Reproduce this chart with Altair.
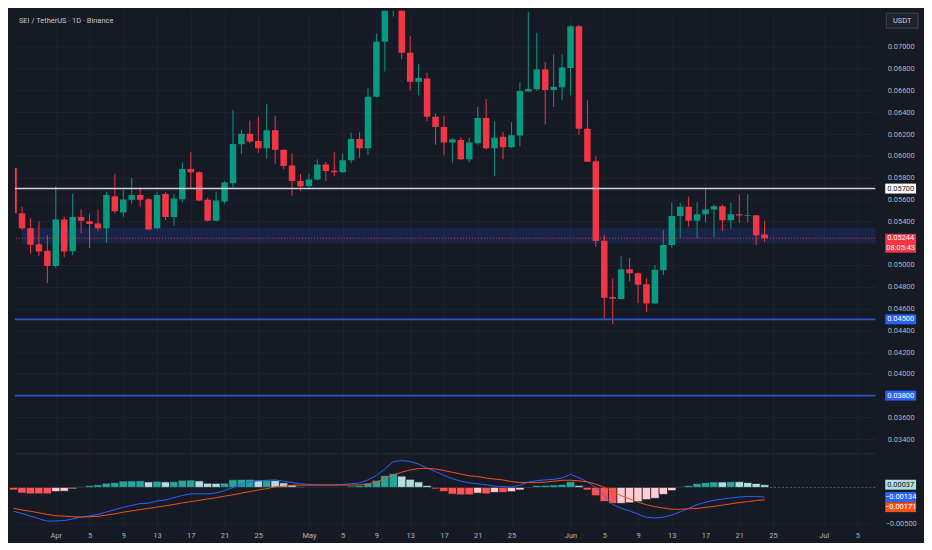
import altair as alt
import numpy as np
import pandas as pd

# ---------------- data ----------------
first_day = "2025-03-27"
day_count = 90
chart_title = "SEI / TetherUS · 1D · Binance"
quote_unit = "USDT"
countdown = "08:05:43"

opens = [0.05888, 0.05473, 0.05337, 0.05188, 0.05130,
         0.04990, 0.05417, 0.05125, 0.05440, 0.05401, 0.05380, 0.05337, 0.05630, 0.05481, 0.05597,
         0.05642, 0.05603, 0.05337, 0.05651, 0.05440, 0.05603, 0.05879, 0.05849, 0.05597, 0.05404,
         0.05582, 0.05748, 0.06107, 0.06202, 0.06137, 0.06071, 0.06235, 0.06057, 0.05911, 0.05769,
         0.05724, 0.05784, 0.05920, 0.05864, 0.05849, 0.05959, 0.06155, 0.06071, 0.06543, 0.07047,
         0.07580, 0.07800, 0.06947, 0.06680, 0.06709, 0.06360, 0.06264, 0.06122, 0.06146, 0.05968,
         0.06116, 0.06347, 0.06071, 0.06175, 0.06080, 0.06187, 0.06591, 0.06611, 0.06792, 0.06605,
         0.06629,
         0.06807, 0.07190, 0.06249, 0.05950, 0.05221, 0.04705, 0.04687, 0.04959, 0.04924, 0.04823,
         0.04645, 0.04950, 0.05182, 0.05449, 0.05533, 0.05404, 0.05464, 0.05508, 0.05538, 0.05410,
         0.05464, 0.05449, 0.05455, 0.05279]

highs = [0.05953, 0.05533, 0.05428, 0.05399, 0.05271,
         0.05722, 0.05443, 0.05651, 0.05508, 0.05470, 0.05508, 0.05671, 0.05831, 0.05686, 0.05799,
         0.05710, 0.05612, 0.05671, 0.05666, 0.05651, 0.05938, 0.06036, 0.05855, 0.05618, 0.05671,
         0.05769, 0.06418, 0.06240, 0.06324, 0.06360, 0.06472, 0.06368, 0.06060, 0.06021, 0.05835,
         0.05835, 0.05968, 0.05944, 0.06036, 0.06021, 0.06214, 0.06217, 0.06620, 0.07125, 0.07700,
         0.07950, 0.07900, 0.07101, 0.06843, 0.06763, 0.06389, 0.06368, 0.06160, 0.06169, 0.06169,
         0.06449, 0.06522, 0.06318, 0.06220, 0.06309, 0.06674, 0.07323, 0.07130, 0.06863, 0.06932,
         0.06932,
         0.07199, 0.07199, 0.06511, 0.05997, 0.05271, 0.04876, 0.05078, 0.05063, 0.04930, 0.04876,
         0.04998, 0.05321, 0.05573, 0.05570, 0.05627, 0.05577, 0.05701, 0.05553, 0.05553, 0.05573,
         0.05648, 0.05648, 0.05455, 0.05404]

lows = [0.05446, 0.05322, 0.05102, 0.05079, 0.04832,
        0.04974, 0.05070, 0.05090, 0.05292, 0.05152, 0.05306, 0.05203, 0.05473, 0.05440, 0.05562,
        0.05532, 0.05322, 0.05331, 0.05410, 0.05359, 0.05573, 0.05706, 0.05582, 0.05399, 0.05399,
        0.05562, 0.05710, 0.06018, 0.06116, 0.06027, 0.05973, 0.05929, 0.05879, 0.05635, 0.05677,
        0.05706, 0.05775, 0.05769, 0.05813, 0.05844, 0.05932, 0.05982, 0.06009, 0.06537, 0.06774,
        0.07279, 0.06887, 0.06600, 0.06555, 0.06318, 0.06102, 0.06006, 0.05938, 0.05959, 0.05944,
        0.06104, 0.06057, 0.05813, 0.05968, 0.06071, 0.06086, 0.06591, 0.06596, 0.06288, 0.06449,
        0.06511,
        0.06555, 0.06191, 0.05944, 0.05167, 0.04500, 0.04456, 0.04684, 0.04847, 0.04648, 0.04565,
        0.04645, 0.04906, 0.05158, 0.05247, 0.05351, 0.05241, 0.05390, 0.05256, 0.05310, 0.05331,
        0.05384, 0.05390, 0.05182, 0.05212]

closes = [0.05473, 0.05337, 0.05185, 0.05123, 0.04990,
          0.05417, 0.05123, 0.05440, 0.05404, 0.05375, 0.05337, 0.05642, 0.05493, 0.05600, 0.05642,
          0.05597, 0.05324, 0.05642, 0.05440, 0.05609, 0.05879, 0.05849, 0.05591, 0.05404, 0.05591,
          0.05755, 0.06110, 0.06202, 0.06131, 0.06071, 0.06235, 0.06057, 0.05908, 0.05769, 0.05722,
          0.05784, 0.05920, 0.05861, 0.05849, 0.05959, 0.06155, 0.06071, 0.06543, 0.07047, 0.07580,
          0.07800, 0.06947, 0.06680, 0.06715, 0.06360, 0.06264, 0.06122, 0.06151, 0.05968, 0.06122,
          0.06347, 0.06071, 0.06166, 0.06080, 0.06190, 0.06596, 0.06614, 0.06792, 0.06605, 0.06635,
          0.06810,
          0.07190, 0.06249, 0.05947, 0.05219, 0.04698, 0.04690, 0.04959, 0.04924, 0.04817, 0.04645,
          0.04954, 0.05182, 0.05449, 0.05533, 0.05404, 0.05464, 0.05508, 0.05538, 0.05410, 0.05464,
          0.05452, 0.05455, 0.05271, 0.05244]

macd_line = [-0.00331, -0.00362, -0.00398, -0.00434, -0.00469,
             -0.00465, -0.00460, -0.00438, -0.00411, -0.00393, -0.00375, -0.00340, -0.00308, -0.00277, -0.00250,
             -0.00224, -0.00219, -0.00188, -0.00174, -0.00143, -0.00112, -0.00089, -0.00089, -0.00089, -0.00076,
             -0.00045, 0.00000, 0.00045, 0.00072, 0.00089, 0.00098, 0.00103, 0.00085, 0.00067, 0.00049,
             0.00040, 0.00036, 0.00036, 0.00036, 0.00040, 0.00050, 0.00063, 0.00103, 0.00166, 0.00255,
             0.00358, 0.00371, 0.00358, 0.00322, 0.00268, 0.00220, 0.00166, 0.00121, 0.00086, 0.00063,
             0.00050, 0.00036, 0.00018, 0.00009, 0.00004, 0.00031, 0.00072, 0.00094, 0.00103, 0.00112,
             0.00130,
             0.00180, 0.00134, 0.00076, 0.00000, -0.00115, -0.00236, -0.00290, -0.00326, -0.00370, -0.00415,
             -0.00424, -0.00415, -0.00383, -0.00339, -0.00290, -0.00240, -0.00205, -0.00179, -0.00161, -0.00148,
             -0.00134, -0.00125, -0.00125, -0.00134]

signal_line = [-0.00291, -0.00313, -0.00331, -0.00353, -0.00375,
               -0.00393, -0.00398, -0.00407, -0.00411, -0.00407, -0.00402, -0.00384, -0.00367, -0.00344, -0.00326,
               -0.00308, -0.00291, -0.00273, -0.00255, -0.00237, -0.00215, -0.00197, -0.00179, -0.00161, -0.00143,
               -0.00121, -0.00103, -0.00080, -0.00058, -0.00036, -0.00018, 0.00009, 0.00018, 0.00027, 0.00031,
               0.00031, 0.00031, 0.00031, 0.00031, 0.00032, 0.00032, 0.00036, 0.00050, 0.00076, 0.00121,
               0.00175, 0.00210, 0.00242, 0.00260, 0.00264, 0.00255, 0.00233, 0.00210, 0.00184, 0.00160,
               0.00150, 0.00130, 0.00115, 0.00103, 0.00080, 0.00067, 0.00067, 0.00067, 0.00072, 0.00085,
               0.00098,
               0.00099, 0.00090, 0.00076, 0.00045, 0.00000, -0.00058, -0.00115, -0.00161, -0.00205, -0.00241,
               -0.00268, -0.00286, -0.00303, -0.00303, -0.00297, -0.00291, -0.00277, -0.00264, -0.00246, -0.00228,
               -0.00210, -0.00197, -0.00183, -0.00171]

histogram = [-0.00036, -0.00080, -0.00090, -0.00090, -0.00090,
             -0.00058, -0.00054, -0.00020, 0.00010, 0.00027, 0.00036, 0.00058, 0.00067, 0.00088, 0.00090,
             0.00092, 0.00076, 0.00085, 0.00076, 0.00080, 0.00100, 0.00102, 0.00090, 0.00058, 0.00056,
             0.00060, 0.00107, 0.00110, 0.00111, 0.00098, 0.00100, 0.00094, 0.00063, 0.00036, 0.00010,
             -0.00004, -0.00005, -0.00005, -0.00004, -0.00002, 0.00018, 0.00027, 0.00054, 0.00098, 0.00165,
             0.00192, 0.00156, 0.00112, 0.00076, 0.00027, -0.00022, -0.00058, -0.00094, -0.00103, -0.00103,
             -0.00080, -0.00090, -0.00070, -0.00070, -0.00060, -0.00036, -0.00008, 0.00027, 0.00029, 0.00034,
             0.00040,
             0.00080, 0.00027, -0.00036, -0.00116, -0.00197, -0.00223, -0.00222, -0.00214, -0.00197, -0.00170,
             -0.00152, -0.00098, -0.00045, 0.00010, 0.00027, 0.00054, 0.00067, 0.00076, 0.00075, 0.00080,
             0.00079, 0.00067, 0.00054, 0.00037]

price_ticks = [0.034, 0.036, 0.038, 0.040, 0.042, 0.044, 0.046, 0.048, 0.050, 0.052,
               0.054, 0.056, 0.058, 0.060, 0.062, 0.064, 0.066, 0.068, 0.070]
covered_ticks = [0.038, 0.052]          # ticks whose labels sit under a price tag
macd_ticks = [-0.005]
date_ticks = ["2025-04-01", "2025-04-05", "2025-04-09", "2025-04-13", "2025-04-17", "2025-04-21", "2025-04-25",
              "2025-05-01", "2025-05-05", "2025-05-09", "2025-05-13", "2025-05-17", "2025-05-21", "2025-05-25",
              "2025-06-01", "2025-06-05", "2025-06-09", "2025-06-13", "2025-06-17", "2025-06-21", "2025-06-25",
              "2025-07-01", "2025-07-05"]

white_level = [0.05700]
blue_levels = [0.04500, 0.03800]
zone_low, zone_high = 0.05197, 0.05339
zone_start = "2025-03-28"

view_start = "2025-03-27 03:52"
view_end = "2025-07-07 02:53"
price_domain = [0.03284, 0.07332]
macd_domain = [-0.00554, 0.00465]

# ---------------- styling ----------------
W, H1, H2 = 866, 444, 74
BG = "#161A25"
GRID = "#1F2330"
TXT = "#B2B5BE"
UP, DOWN = "#089981", "#F23645"
BLUE = "#2962FF"
LEVEL_BLUE = "#2C57D4"
SIG = "#F4511E"
FONT = "Roboto"
FS = 7.5
TAG_X = W + 25.5

DAY = 86_400_000


def to_ms(s):
    return int(pd.Timestamp(s).value // 1_000_000)


dates = pd.date_range(first_day, periods=day_count, freq="D")
ms = dates.asi8 // 1_000_000
tick_ms = [to_ms(d) for d in date_ticks]
x_lo, x_hi = to_ms(view_start), to_ms(view_end)
labelled_ticks = [p for p in price_ticks if p not in covered_ticks]

cdf = pd.DataFrame({"t": ms, "o": opens, "h": highs, "l": lows, "c": closes})
cdf["t0"] = cdf["t"] - int(0.385 * DAY)
cdf["t1"] = cdf["t"] + int(0.385 * DAY)
cdf["dir"] = np.where(cdf["c"] >= cdf["o"], "up", "down")

mdf = pd.DataFrame({"t": ms, "m": macd_line, "s": signal_line, "h": histogram})
prev = mdf["h"].shift(1).fillna(0.0)
mdf["hc"] = np.where(mdf["h"] >= 0,
                     np.where(prev < mdf["h"], "ga", "fa"),
                     np.where(prev < mdf["h"], "gb", "fb"))
mdf["t0"] = mdf["t"] - DAY // 2
mdf["t1"] = mdf["t"] + DAY // 2

xs = alt.Scale(type="utc", domain=[x_lo, x_hi])
ys = alt.Scale(domain=price_domain, nice=False, zero=False)
mys = alt.Scale(domain=macd_domain, nice=False, zero=False)

common_axis = dict(ticks=False, tickSize=0, domain=False, grid=True, gridColor=GRID, tickCount=200,
                   labelOverlap=False, labelSeparation=0, labelBound=False, title=None)

top_xaxis = alt.Axis(values=tick_ms, labels=False, **common_axis)
bottom_xaxis = alt.Axis(values=tick_ms, labelPadding=4, labelFlush=False, labelColor=TXT,
                        labelFont=FONT, labelFontSize=FS,
                        labelExpr="utcdate(datum.value) == 1 ? utcFormat(datum.value, '%b') : '' + utcdate(datum.value)",
                        **common_axis)
price_axis = alt.Axis(orient="right", values=labelled_ticks, format=".5f", labelAlign="center",
                      labelPadding=25.5, labelColor=TXT, labelFont=FONT, labelFontSize=FS, **common_axis)
macd_axis = alt.Axis(orient="right", values=macd_ticks, format=".5f", labelAlign="center", labelPadding=25.5,
                     labelColor=TXT, labelFont=FONT, labelFontSize=FS, **common_axis)

candle_color = alt.Color("dir:N", scale=alt.Scale(domain=["up", "down"], range=[UP, DOWN]), legend=None)


def box_path(width, height):
    h = height / width
    return f"M-1,-{h:.4f}L1,-{h:.4f}L1,{h:.4f}L-1,{h:.4f}Z"


def tag(value, bg, fg, dy=0.0, height=10.0, width=31.0, extra=None):
    d = pd.DataFrame({"v": [value]})
    box = alt.Chart(d).mark_point(shape=box_path(width, height), filled=True, size=width * width,
                                  color=bg, opacity=1, yOffset=dy).encode(
        x=alt.value(TAG_X), y=alt.Y("v:Q", title=None))
    txt = alt.Chart(d).mark_text(color=fg, font=FONT, fontSize=FS, align="center", baseline="middle",
                                 yOffset=(dy if extra is None else 0)).encode(
        x=alt.value(TAG_X), y=alt.Y("v:Q", title=None), text=alt.Text("v:Q", format=".5f"))
    layers = [box, txt]
    if extra is not None:
        layers.append(alt.Chart(d).mark_text(color=fg, font=FONT, fontSize=FS, align="center",
                                             baseline="middle", yOffset=10).encode(
            x=alt.value(TAG_X), y=alt.Y("v:Q", title=None), text=alt.value(extra)))
    return layers


# ---------------- main price pane ----------------
zone_df = pd.DataFrame({"t0": [to_ms(zone_start)], "t1": [x_hi + 5 * DAY], "lo": [zone_low], "hi": [zone_high]})
zone = alt.Chart(zone_df).mark_rect(color=BLUE, opacity=0.16, clip=True).encode(
    x=alt.X("t0:T", scale=xs, axis=top_xaxis, title=None), x2="t1:T",
    y=alt.Y("lo:Q", scale=ys, axis=price_axis, title=None), y2="hi:Q")

covered_grid = alt.Chart(pd.DataFrame({"v": covered_ticks})).mark_rule(color=GRID, strokeWidth=1).encode(
    y=alt.Y("v:Q", title=None))

wicks = alt.Chart(cdf).mark_rule(strokeWidth=1, clip=True).encode(
    x=alt.X("t:T", title=None), y=alt.Y("l:Q", title=None), y2="h:Q", color=candle_color)
bodies = alt.Chart(cdf).mark_rect(clip=True).encode(
    x=alt.X("t0:T", title=None), x2="t1:T", y=alt.Y("o:Q", title=None), y2="c:Q", color=candle_color)

white_rule = alt.Chart(pd.DataFrame({"v": white_level})).mark_rule(color="#D1D4DC", strokeWidth=1.5).encode(
    y=alt.Y("v:Q", title=None))
blue_rules = alt.Chart(pd.DataFrame({"v": blue_levels})).mark_rule(color=LEVEL_BLUE, strokeWidth=1.6).encode(
    y=alt.Y("v:Q", title=None))
price_line = alt.Chart(pd.DataFrame({"v": [closes[-1]]})).mark_rule(
    color=DOWN, strokeDash=[1, 2], strokeWidth=1).encode(y=alt.Y("v:Q", title=None))

title_txt = alt.Chart(pd.DataFrame({"s": [chart_title]})).mark_text(
    align="left", baseline="middle", font=FONT, fontSize=FS, color="#C3C6CE").encode(
    x=alt.value(4), y=alt.value(10), text="s:N")

usdt_box = alt.Chart(pd.DataFrame({"s": [quote_unit]})).mark_point(
    shape=box_path(32, 15), filled=True, size=32 * 32, fill="#1E222D", stroke="#434651",
    strokeWidth=1, opacity=1).encode(x=alt.value(W + 27), y=alt.value(10))
usdt_txt = alt.Chart(pd.DataFrame({"s": [quote_unit]})).mark_text(
    align="center", baseline="middle", font=FONT, fontSize=FS, color="#D1D4DC").encode(
    x=alt.value(W + 27), y=alt.value(10), text="s:N")

main_layers = [zone, covered_grid, wicks, bodies, white_rule, blue_rules, price_line]
main_layers += tag(white_level[0], "#FFFFFF", "#131722")
for v in blue_levels:
    main_layers += tag(v, BLUE, "#FFFFFF")
main_layers += tag(closes[-1], DOWN, "#FFFFFF", dy=5, height=19, extra=countdown)
main_layers += [title_txt, usdt_box, usdt_txt]

main = alt.layer(*main_layers).properties(width=W, height=H1)

# ---------------- MACD pane ----------------
hist_color = alt.Color("hc:N", scale=alt.Scale(domain=["ga", "fa", "gb", "fb"],
                                               range=["#26A69A", "#B2DFDB", "#FFCDD2", "#FF5252"]),
                       legend=None)
zero_line = alt.Chart(pd.DataFrame({"z": [0.0]})).mark_rule(
    color="#787B86", strokeDash=[2, 2], strokeWidth=1, opacity=0.7).encode(
    y=alt.Y("z:Q", scale=mys, axis=macd_axis, title=None))
bars = alt.Chart(mdf).mark_rect(stroke=BG, strokeWidth=0.7).encode(
    x=alt.X("t0:T", scale=xs, axis=bottom_xaxis, title=None), x2="t1:T",
    y=alt.Y("h:Q", title=None), y2=alt.datum(0), color=hist_color)
macd_l = alt.Chart(mdf).mark_line(color=BLUE, strokeWidth=1).encode(
    x=alt.X("t:T", title=None), y=alt.Y("m:Q", title=None))
sig_l = alt.Chart(mdf).mark_line(color=SIG, strokeWidth=1).encode(
    x=alt.X("t:T", title=None), y=alt.Y("s:Q", title=None))
separator = alt.Chart(pd.DataFrame({"z": [0]})).mark_rule(color="#2A2E39", strokeWidth=1).encode(
    y=alt.value(0))

lower_layers = [zero_line, bars, macd_l, sig_l]
lower_layers += tag(histogram[-1], "#B2DFDB", "#131722")
lower_layers += tag(macd_line[-1], BLUE, "#FFFFFF")
lower_layers += tag(signal_line[-1], SIG, "#FFFFFF", dy=7.5)
lower_layers += [separator]

lower = alt.layer(*lower_layers).properties(width=W, height=H2)

chart = (
    alt.vconcat(main, lower, spacing=0)
    .resolve_scale(x="independent", y="independent", color="independent")
    .properties(background=BG, padding={"left": 0, "top": 0, "right": 3, "bottom": 2})
    .configure_view(stroke="transparent")
    .configure_axis(labelFont=FONT, labelFontSize=FS, labelColor=TXT, gridColor=GRID, gridWidth=1,
                    labelOverlap=False, labelSeparation=0)
)

chart.save("out.html", embed_options={"renderer": "svg", "actions": False})
